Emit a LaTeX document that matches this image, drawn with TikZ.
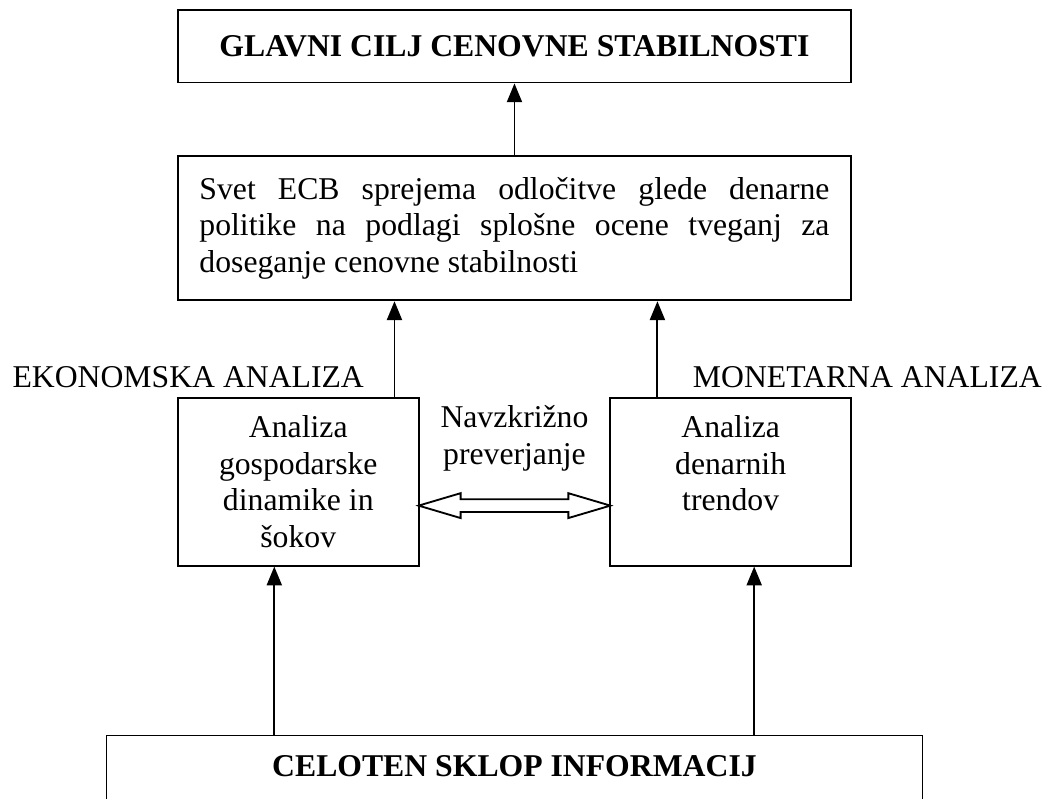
\documentclass[tikz,border=0pt]{standalone}
\usepackage{fontspec}
\setmainfont{Liberation Serif}
\usepackage{tikz}
\usetikzlibrary{positioning,arrows.meta,shapes.arrows}
\hyphenpenalty=10000
\tolerance=9999

\begin{document}
\begin{tikzpicture}[
    box/.style={
      draw,line width=0.7pt,align=center,
      font=\fontsize{12}{13.8}\selectfont,
      minimum width=3.2cm,minimum height=2.234cm},
    wide/.style={box,minimum width=8.951cm},
    lbl/.style={inner sep=0pt,align=center,font=\fontsize{12}{13.8}\selectfont},
    arr/.style={->,line width=0.7pt},
    dblarr/.style={
      double arrow,draw,line width=0.7pt,
      minimum height=2.55cm,inner xsep=0pt,inner ysep=0.073cm,
      double arrow head extend=0.08cm,double arrow tip angle=33},
    >={Triangle[length=0.25cm,width=0.2cm]}
]
\useasboundingbox (0,0) rectangle (14.006,-10.627);

\node[wide,minimum height=0.964cm,font=\fontsize{12}{13.8}\selectfont\bfseries] (goal) at (6.843,-0.615)
      {GLAVNI CILJ CENOVNE STABILNOSTI};
\node[wide,minimum height=1.922cm,below=0.951cm of goal,text width=8.38cm,align=justify] (svet)
      {Svet ECB sprejema odločitve glede denarne politike na podlagi splošne ocene tveganj za doseganje cenovne stabilnosti};
\node[box,below right=1.27cm and 0cm of svet.south west] (eko) {Analiza\\gospodarske\\dinamike in\\šokov};
\node[box,below left=1.27cm and 0cm of svet.south east]  (mon) {Analiza\\denarnih\\trendov\\\mbox{}};
\coordinate (c) at (eko.south -| svet.south);
\node[box,below=2.234cm of c,minimum width=10.853cm,inner ysep=0pt,
      text height=0.552cm,text depth=2cm,font=\fontsize{12}{13.8}\selectfont\bfseries] (info)
      {CELOTEN SKLOP INFORMACIJ};

\node[lbl,anchor=base east] (ekl) at ([xshift=-0.732cm,yshift=0.12cm]eko.north east) {EKONOMSKA ANALIZA};
\node[lbl,anchor=base west] (mnl) at ([xshift=1.104cm,yshift=0.12cm]mon.north west) {MONETARNA ANALIZA};
\path (eko.north east) -- node[lbl,below=0.11cm] (xlbl) {Navzkrižno\\preverjanje} (mon.north west);
\path ([yshift=-0.319cm]eko.east) -- node[dblarr] (xchk) {} ([yshift=-0.319cm]mon.west);

\coordinate (e1) at ([xshift=-0.333cm]eko.north east);
\coordinate (m1) at ([xshift=0.638cm]mon.north west);
\coordinate (b1) at ([xshift=-0.319cm]eko.south);
\coordinate (b2) at ([xshift=0.313cm]mon.south);

\draw[arr] (svet) -- (goal);
\draw[arr] (e1) -- (e1 |- svet.south);
\draw[arr] (m1) -- (m1 |- svet.south);
\draw[arr] (b1 |- info.north) -- (b1);
\draw[arr] (b2 |- info.north) -- (b2);
\end{tikzpicture}
\end{document}
